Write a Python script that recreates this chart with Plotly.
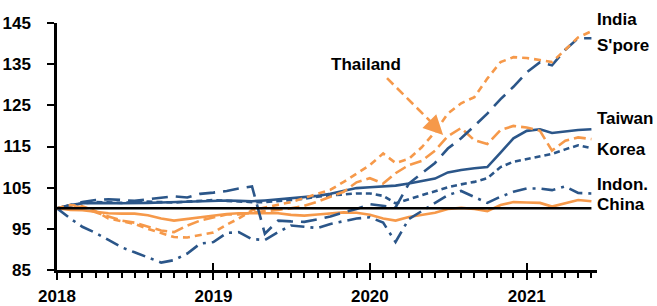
import pandas as pd
import plotly.graph_objects as go

# ---- data (monthly index, Jan 2018 = 100) ----
months = pd.date_range("2018-01-01", periods=42, freq="MS")

india = [100, 100.8, 100.5, 99.3, 97.5, 96.8, 96.2, 95.0, 94.0, 93.0, 92.9, 93.5,
         94.1, 96.0, 97.5, 99.5, 100.2, 100.8, 101.5, 102.5, 103.5, 104.5, 106.4, 108.5,
         110.5, 113.3, 111.0, 112.0, 114.8, 118.5, 123.0, 125.5, 127.0, 131.5, 135.5, 136.7,
         136.5, 136.0, 135.5, 138.5, 141.5, 143.0]
spore = [100, 100.8, 101.5, 102.0, 102.2, 102.0, 101.8, 102.2, 102.6, 102.9, 102.6, 103.5,
         103.8, 104.2, 104.8, 105.3, 93.8, 97.0, 96.8, 96.7, 97.3, 98.0, 99.0, 99.8,
         101.0, 100.5, 100.2, 106.0, 108.5, 111.0, 114.5, 117.0, 120.0, 123.0, 126.5, 129.5,
         133.0, 135.5, 134.7, 138.5, 141.3, 141.3]
thailand = [100, 100.5, 100.3, 99.0, 98.0, 97.0, 96.5, 95.5, 94.6, 94.2, 95.8, 97.0,
            97.8, 98.5, 98.5, 99.0, 99.3, 99.6, 100.0, 100.6, 101.6, 102.8, 104.0, 106.3,
            107.3, 106.0, 108.5, 110.5, 111.5, 114.0, 117.5, 119.5, 116.5, 115.6, 119.0, 120.0,
            119.6, 118.8, 114.0, 116.4, 117.2, 116.8]
taiwan = [100, 100.8, 101.2, 101.3, 101.3, 101.2, 101.2, 101.3, 101.4, 101.5, 101.6, 101.7,
          101.8, 101.9, 101.8, 101.7, 101.9, 102.2, 102.5, 102.7, 103.0, 103.5, 104.3, 104.9,
          105.1, 105.3, 105.5, 106.0, 106.5, 107.2, 108.7, 109.3, 109.7, 110.0, 113.5, 117.0,
          118.8, 119.2, 118.3, 118.7, 119.0, 119.2]
korea = [100, 100.7, 101.2, 101.5, 101.4, 101.3, 101.5, 101.6, 101.5, 101.4, 101.6, 101.8,
         102.0, 101.8, 101.6, 101.5, 101.5, 101.7, 102.0, 102.3, 102.8, 103.1, 103.4, 103.6,
         103.6, 103.0, 101.2, 102.2, 103.3, 104.2, 105.1, 105.8, 106.4, 107.3, 110.0, 111.3,
         112.0, 112.7, 113.2, 114.3, 115.3, 114.6]
indon = [100, 97.5, 95.5, 94.0, 92.3, 90.5, 89.3, 88.0, 86.8, 87.4, 89.0, 91.4,
         91.8, 94.0, 94.2, 92.5, 92.3, 94.2, 95.8, 95.5, 95.2, 96.2, 96.8, 97.5,
         97.8, 96.5, 91.8, 97.4, 99.3, 101.2, 103.2, 104.2, 102.8, 101.3, 102.8, 104.0,
         104.8, 104.8, 104.4, 105.3, 103.7, 103.6]
china = [100, 99.6, 99.5, 99.2, 98.8, 98.7, 98.7, 98.3, 97.5, 97.0, 97.4, 97.9,
         98.2, 98.6, 98.8, 98.8, 98.9, 98.8, 98.4, 98.2, 98.5, 98.8, 99.0, 98.9,
         98.4, 97.5, 97.0, 97.9, 98.4, 98.9, 99.8, 100.1, 99.8, 99.3, 100.8, 101.5,
         101.4, 101.3, 100.4, 101.2, 102.0, 101.7]
baseline = [100] * len(months)

year_ticks = ["2018-01-01", "2019-01-01", "2020-01-01", "2021-01-01"]
year_labels = ["2018", "2019", "2020", "2021"]

NAVY = "#2B5689"
ORANGE = "#F6994A"
FONT = "Liberation Sans, Arial, sans-serif"
FS = 17
Y_MIN, Y_MAX = 85, 145

fig = go.Figure()

def add(y, color, dash, name, xaxis="x"):
    fig.add_trace(go.Scatter(x=months, y=y, mode="lines", name=name, xaxis=xaxis,
                             line=dict(color=color, width=2.6, dash=dash),
                             hoverinfo="skip"))

add(baseline, "black", "solid", "base", xaxis="x2")
add(china, ORANGE, "solid", "China")
add(indon, NAVY, "14px,6px,3px,6px", "Indon.")
add(korea, NAVY, "6px,4px", "Korea")
add(taiwan, NAVY, "solid", "Taiwan")
add(thailand, ORANGE, "12px,5px", "Thailand")
add(spore, NAVY, "16px,8px", "S'pore")
add(india, ORANGE, "7px,5px", "India")

xr = ["2018-01-01", "2021-06-14"]
fig.update_layout(
    width=657, height=306,
    margin=dict(l=57, r=60, t=23, b=36, autoexpand=False),
    paper_bgcolor="white", plot_bgcolor="white",
    showlegend=False,
    font=dict(family=FONT, size=FS, color="black", weight="bold"),
    xaxis=dict(range=xr, tickvals=year_ticks, ticktext=year_labels, automargin=False,
               showline=True, linecolor="black", linewidth=2.5,
               ticks="outside", ticklen=7, tickwidth=2, tickcolor="black",
               showgrid=False, zeroline=False, ticklabelstandoff=2,
               minor=dict(dtick="M1", tick0="2018-01-01", ticks="outside",
                          ticklen=5, tickwidth=1.6, tickcolor="black", showgrid=False)),
    xaxis2=dict(range=xr, overlaying="x", anchor="y", tickvals=year_ticks, automargin=False,
                showticklabels=False, showline=False, showgrid=False, zeroline=False,
                ticks="inside", ticklen=7, tickwidth=2, tickcolor="black"),
    yaxis=dict(range=[Y_MIN, Y_MAX], tick0=85, dtick=10, automargin=False,
               showline=True, linecolor="black", linewidth=2.5,
               ticks="outside", ticklen=7, tickwidth=2, tickcolor="black",
               showgrid=False, zeroline=False, ticklabelstandoff=13),
)

labels = [("India", 145.8), ("S'pore", 139.5), ("Taiwan", 121.8),
          ("Korea", 114.3), ("Indon.", 105.8), ("China", 100.9)]
for txt, yv in labels:
    fig.add_annotation(x=1, xref="paper", y=(yv - Y_MIN) / (Y_MAX - Y_MIN), yref="paper",
                       text=txt, showarrow=False,
                       xanchor="left", yanchor="middle", xshift=-2,
                       font=dict(family=FONT, size=FS, color="black", weight="bold"))

fig.add_annotation(x="2019-12-23", y=134.9, xref="x", yref="y", text="Thailand",
                   showarrow=False, xanchor="center", yanchor="middle",
                   font=dict(family=FONT, size=FS, color="black", weight="bold"))

# dashed arrow shaft + arrow head
fig.add_shape(type="line", xref="x", yref="y",
              x0="2020-02-10", y0=131.6, x1="2020-05-30", y1=120.2,
              line=dict(color=ORANGE, width=2.6, dash="9px,5px"))
fig.add_annotation(x="2020-06-20", y=117.8, xref="x", yref="y", text="",
                   showarrow=True, ax=-10, ay=-10, arrowhead=2, arrowsize=1.3,
                   arrowwidth=3, arrowcolor=ORANGE)

fig.write_html("out.html", config={"displayModeBar": False},
               post_script="document.body.style.margin='0';")
